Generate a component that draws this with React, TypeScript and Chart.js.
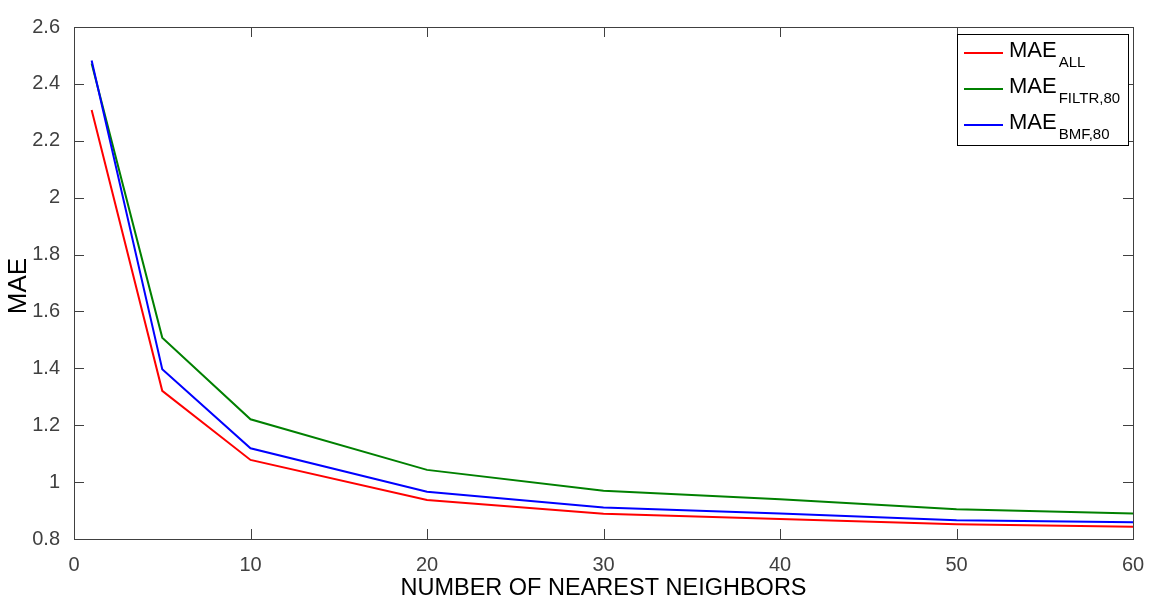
import React, { useEffect, useRef } from "react";
import { Chart, registerables } from "chart.js";

Chart.register(...registerables);

const neighbors = [1, 5, 10, 20, 30, 40, 50, 60];
const maeAll = [2.308, 1.321, 1.078, 0.937, 0.889, 0.870, 0.852, 0.843];
const maeFiltr = [2.472, 1.508, 1.221, 1.043, 0.970, 0.940, 0.905, 0.890];
const maeBmf = [2.482, 1.397, 1.119, 0.966, 0.911, 0.890, 0.866, 0.859];
const xTicks = [0, 10, 20, 30, 40, 50, 60];
const yTicks = [0.8, 1, 1.2, 1.4, 1.6, 1.8, 2, 2.2, 2.4, 2.6];

const seriesMain = ["MAE", "MAE", "MAE"];
const seriesSub = ["ALL", "FILTR,80", "BMF,80"];
const seriesColors = ["#ff0000", "#008000", "#0000ff"];

const FONT = "'Liberation Sans', Arial, sans-serif";
const AXIS = "#404040";

const boxPlugin = {
  id: "matlabBox",
  afterDraw(chart: any) {
    const { ctx, chartArea: a, scales } = chart;
    ctx.save();
    ctx.strokeStyle = AXIS;
    ctx.lineWidth = 1;
    ctx.strokeRect(Math.round(a.left) + 0.5, Math.round(a.top) + 0.5, Math.round(a.right - a.left), Math.round(a.bottom - a.top));
    const tl = 10;
    ctx.beginPath();
    xTicks.forEach((v) => {
      const x = Math.round(scales.x.getPixelForValue(v)) + 0.5;
      ctx.moveTo(x, a.bottom);
      ctx.lineTo(x, a.bottom - tl);
      ctx.moveTo(x, a.top);
      ctx.lineTo(x, a.top + tl);
    });
    yTicks.forEach((v) => {
      const y = Math.round(scales.y.getPixelForValue(v)) + 0.5;
      ctx.moveTo(a.left, y);
      ctx.lineTo(a.left + tl, y);
      ctx.moveTo(a.right, y);
      ctx.lineTo(a.right - tl, y);
    });
    ctx.stroke();

    // axis titles
    ctx.fillStyle = "#000";
    ctx.textAlign = "center";
    ctx.textBaseline = "middle";
    ctx.font = `23.5px ${FONT}`;
    ctx.fillText("NUMBER OF NEAREST NEIGHBORS", (a.left + a.right) / 2, 589);
    ctx.save();
    ctx.translate(19, 286);
    ctx.rotate(-Math.PI / 2);
    ctx.font = `26px ${FONT}`;
    ctx.fillText("MAE", 0, 0);
    ctx.restore();

    // legend
    const lx = 957, ly = 34, lw = 171, lh = 111;
    ctx.fillStyle = "#fff";
    ctx.fillRect(lx, ly, lw, lh);
    ctx.strokeStyle = "#000";
    ctx.strokeRect(lx + 0.5, ly + 0.5, lw, lh);
    ctx.textAlign = "left";
    ctx.textBaseline = "alphabetic";
    const rows = [57, 93, 129];
    seriesMain.forEach((m, i) => {
      const base = rows[i];
      ctx.strokeStyle = seriesColors[i];
      ctx.lineWidth = 2;
      ctx.beginPath();
      ctx.moveTo(964, base - 4);
      ctx.lineTo(1003, base - 4);
      ctx.stroke();
      ctx.fillStyle = "#000";
      ctx.font = `22px ${FONT}`;
      ctx.fillText(m, 1009, base);
      const w = ctx.measureText(m).width;
      ctx.font = `15px ${FONT}`;
      ctx.fillText(seriesSub[i], 1009 + w + 2, base + 10);
    });
    ctx.restore();
  },
};

export default function App() {
  const ref = useRef<HTMLCanvasElement>(null);
  useEffect(() => {
    if (!ref.current) return;
    const mk = (data: number[]) => neighbors.map((x, i) => ({ x, y: data[i] }));
    const chart = new Chart(ref.current, {
      type: "line",
      data: {
        datasets: [
          { label: "MAE_ALL", data: mk(maeAll), borderColor: seriesColors[0], borderWidth: 2, pointRadius: 0, order: 2 },
          { label: "MAE_FILTR,80", data: mk(maeFiltr), borderColor: seriesColors[1], borderWidth: 2, pointRadius: 0, order: 1 },
          { label: "MAE_BMF,80", data: mk(maeBmf), borderColor: seriesColors[2], borderWidth: 2, pointRadius: 0, order: 0 },
        ],
      },
      options: {
        animation: false,
        responsive: false,
        devicePixelRatio: 1,
        layout: { padding: { top: 27, right: 27, left: 0, bottom: 0 } },
        plugins: { legend: { display: false }, tooltip: { enabled: false } },
        scales: {
          x: {
            type: "linear",
            min: 0,
            max: 60,
            grid: { display: false },
            border: { display: false },
            afterBuildTicks: (s: any) => { s.ticks = xTicks.map((v) => ({ value: v })); },
            afterFit: (s: any) => { s.height = 75; },
            ticks: { color: AXIS, padding: 6, font: { family: FONT, size: 20 } },
          },
          y: {
            type: "linear",
            min: 0.8,
            max: 2.6,
            grid: { display: false },
            border: { display: false },
            afterBuildTicks: (s: any) => { s.ticks = yTicks.map((v) => ({ value: v })); },
            afterFit: (s: any) => { s.width = 74; },
            ticks: { color: AXIS, padding: 6, font: { family: FONT, size: 20 }, callback: (v: any) => String(Math.round(Number(v) * 10) / 10) },
          },
        },
      },
      plugins: [boxPlugin],
    });
    return () => chart.destroy();
  }, []);
  return (
    <div style={{ position: "fixed", left: 0, top: 0, width: 1160, height: 614, background: "#fff" }}>
      <canvas ref={ref} width={1160} height={614} style={{ width: 1160, height: 614 }} />
    </div>
  );
}
